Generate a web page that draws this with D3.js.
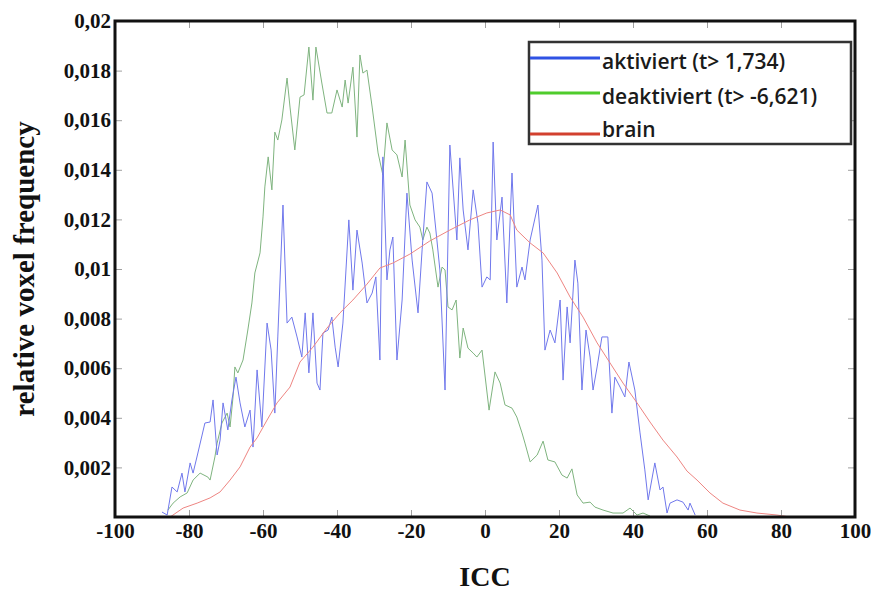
<!DOCTYPE html>
<html>
<head>
<meta charset="utf-8">
<script src="https://cdn.jsdelivr.net/npm/d3@7"></script>
<style>
  html, body { margin: 0; padding: 0; background: #fff; }
  svg { display: block; }
  .serif-label { font-family: "Liberation Serif", "Times New Roman", serif; font-weight: bold; }
</style>
</head>
<body>
<svg id="chart" width="871" height="594"></svg>
<script>
// ICC histogram: relative voxel frequency per ICC bin

const xTicks = [-100, -80, -60, -40, -20, 0, 20, 40, 60, 80, 100];
const yTicks = [0.002, 0.004, 0.006, 0.008, 0.01, 0.012, 0.014, 0.016, 0.018, 0.02];

const seriesNames = ["aktiviert (t> 1,734)", "deaktiviert (t> -6,621)", "brain"];

// aktiviert: [ICC, frequency]
const aktiviert = [
  [-87.3, 0.00020], [-85.9, 0.00008], [-84.6, 0.00121], [-83.2, 0.00101], [-81.9, 0.00177],
  [-81.1, 0.00101], [-79.7, 0.00218], [-78.9, 0.00177], [-77.6, 0.00258], [-75.7, 0.00379],
  [-74.3, 0.00383], [-73.5, 0.00472], [-72.4, 0.00250], [-71.6, 0.00310], [-70.8, 0.00460],
  [-69.5, 0.00351], [-68.4, 0.00472], [-67.3, 0.00564], [-66.2, 0.00460], [-64.9, 0.00363],
  [-63.5, 0.00431], [-62.7, 0.00282], [-61.6, 0.00593], [-60.3, 0.00363], [-58.9, 0.00782],
  [-57.8, 0.00673], [-56.8, 0.00419], [-56.0, 0.00726], [-54.6, 0.01258], [-53.5, 0.00782],
  [-52.2, 0.00806], [-50.8, 0.00726], [-49.5, 0.00645], [-48.6, 0.00823], [-47.6, 0.00581],
  [-46.5, 0.00823], [-45.4, 0.00540], [-44.6, 0.00512], [-43.8, 0.00742], [-42.4, 0.00754],
  [-41.4, 0.00806], [-40.5, 0.00685], [-39.7, 0.00605], [-38.4, 0.00782], [-36.8, 0.01198],
  [-35.7, 0.00915], [-34.6, 0.01157], [-33.2, 0.01024], [-31.9, 0.00863], [-30.5, 0.00903],
  [-29.5, 0.00968], [-28.4, 0.00633], [-27.6, 0.01452], [-26.5, 0.00956], [-25.7, 0.01077],
  [-24.9, 0.01129], [-23.8, 0.00633], [-22.4, 0.00875], [-21.1, 0.01306], [-19.7, 0.01036],
  [-18.1, 0.00823], [-17.0, 0.01077], [-15.7, 0.01351], [-14.3, 0.01306], [-13.0, 0.01117],
  [-12.2, 0.00996], [-10.8, 0.00512], [-9.5, 0.01500], [-7.6, 0.01117], [-6.8, 0.01448],
  [-5.9, 0.01238], [-4.6, 0.01077], [-3.2, 0.01319], [-1.9, 0.01185], [-0.8, 0.00927],
  [0.5, 0.00968], [1.4, 0.00956], [2.2, 0.01512], [3.2, 0.01117], [4.6, 0.01290],
  [5.9, 0.00863], [7.3, 0.01387], [8.6, 0.00927], [10.0, 0.01008], [10.8, 0.00956],
  [12.2, 0.01117], [14.3, 0.01258], [15.4, 0.01036], [16.2, 0.00673], [17.6, 0.00754],
  [18.9, 0.00702], [20.3, 0.00875], [21.1, 0.00552], [22.2, 0.00847], [23.0, 0.00702],
  [24.3, 0.01036], [25.1, 0.00943], [26.2, 0.00512], [27.3, 0.00754], [28.4, 0.00645],
  [29.2, 0.00512], [30.3, 0.00605], [31.6, 0.00726], [33.2, 0.00726], [34.3, 0.00419],
  [35.1, 0.00564], [36.5, 0.00524], [37.8, 0.00484], [38.9, 0.00625], [40.5, 0.00512],
  [41.9, 0.00339], [43.2, 0.00190], [44.1, 0.00069], [45.9, 0.00218], [47.3, 0.00109],
  [48.1, 0.00121], [49.2, 0.00016], [50.0, 0.00056], [51.9, 0.00069], [53.5, 0.00060],
  [54.9, 0.00028], [55.4, 0.00056], [56.8, 0.00008]
];

// deaktiviert: [ICC, frequency]
const deaktiviert = [
  [-85.7, 0.00028], [-84.3, 0.00056], [-82.4, 0.00081], [-80.5, 0.00097], [-78.9, 0.00149],
  [-77.0, 0.00177], [-74.9, 0.00161], [-74.3, 0.00149], [-73.0, 0.00242], [-72.4, 0.00298],
  [-71.1, 0.00379], [-69.7, 0.00419], [-68.9, 0.00363], [-68.1, 0.00484], [-67.6, 0.00605],
  [-66.8, 0.00581], [-65.4, 0.00633], [-64.1, 0.00754], [-63.0, 0.00863], [-62.2, 0.00984],
  [-60.8, 0.01065], [-60.0, 0.01210], [-59.5, 0.01331], [-58.6, 0.01452], [-57.6, 0.01319],
  [-56.8, 0.01552], [-56.0, 0.01520], [-54.9, 0.01601], [-53.5, 0.01770], [-52.7, 0.01653],
  [-51.4, 0.01480], [-50.0, 0.01693], [-48.9, 0.01702], [-47.6, 0.01895], [-46.5, 0.01681],
  [-45.7, 0.01895], [-44.1, 0.01750], [-42.7, 0.01629], [-41.4, 0.01629], [-40.0, 0.01722],
  [-38.6, 0.01653], [-37.8, 0.01762], [-37.0, 0.01669], [-35.7, 0.01814], [-34.6, 0.01532],
  [-33.8, 0.01863], [-33.0, 0.01790], [-31.9, 0.01802], [-30.5, 0.01653], [-28.9, 0.01468],
  [-27.6, 0.01379], [-26.5, 0.01589], [-25.1, 0.01480], [-23.8, 0.01460], [-22.4, 0.01371],
  [-21.6, 0.01520], [-20.3, 0.01258], [-18.9, 0.01198], [-17.6, 0.01169], [-16.8, 0.01117],
  [-15.7, 0.01169], [-14.9, 0.01145], [-14.1, 0.01077], [-12.7, 0.00927], [-11.6, 0.01008],
  [-10.8, 0.00996], [-10.0, 0.00847], [-8.9, 0.00835], [-7.8, 0.00875], [-6.8, 0.00641],
  [-5.9, 0.00762], [-4.6, 0.00681], [-3.2, 0.00661], [-2.2, 0.00645], [-0.8, 0.00673],
  [1.1, 0.00431], [2.7, 0.00585], [4.1, 0.00540], [5.4, 0.00452], [7.3, 0.00439],
  [8.6, 0.00403], [10.0, 0.00339], [10.8, 0.00298], [12.2, 0.00222], [14.1, 0.00250],
  [15.7, 0.00306], [17.0, 0.00230], [18.9, 0.00222], [20.8, 0.00169], [22.2, 0.00157],
  [23.5, 0.00194], [24.9, 0.00089], [26.5, 0.00056], [28.4, 0.00060], [29.7, 0.00040],
  [31.9, 0.00028], [34.6, 0.00016], [37.3, 0.00016], [39.2, 0.00036], [41.1, 0.00008],
  [42.7, 0.00016], [44.6, 0.00004]
];

// brain: [ICC, frequency]
const brain = [
  [-85.1, 0.00000], [-81.6, 0.00036], [-77.8, 0.00056], [-74.3, 0.00077], [-71.6, 0.00101],
  [-68.9, 0.00149], [-66.2, 0.00202], [-63.5, 0.00282], [-61.6, 0.00319], [-58.9, 0.00391],
  [-56.2, 0.00460], [-52.7, 0.00524], [-50.0, 0.00625], [-46.5, 0.00685], [-42.7, 0.00762],
  [-39.2, 0.00823], [-35.7, 0.00875], [-31.9, 0.00939], [-28.4, 0.01004], [-24.9, 0.01024],
  [-20.3, 0.01060], [-14.9, 0.01113], [-9.5, 0.01157], [-4.1, 0.01198], [0.5, 0.01226],
  [4.1, 0.01238], [6.8, 0.01218], [8.6, 0.01157], [12.2, 0.01105], [15.7, 0.01065],
  [19.5, 0.00984], [23.0, 0.00887], [26.5, 0.00806], [30.3, 0.00702], [33.8, 0.00621],
  [37.3, 0.00540], [41.1, 0.00460], [44.6, 0.00383], [48.1, 0.00310], [51.9, 0.00242],
  [54.6, 0.00185], [57.3, 0.00149], [60.8, 0.00097], [64.3, 0.00056], [68.9, 0.00028],
  [73.5, 0.00016], [78.9, 0.00008], [82.4, 0.00000]
];

const lineColors = ["#7078ec", "#7fb47f", "#ee8582"];
const legendColors = ["#2f52e4", "#4fcc2c", "#d2402e"];

const svg = d3.select("#chart");
const margin = { left: 115, right: 16, top: 21, bottom: 77 };
const W = 871, H = 594;

const x = d3.scaleLinear().domain([-100, 100]).range([margin.left, W - margin.right]);
const y = d3.scaleLinear().domain([0, 0.02]).range([H - margin.bottom, margin.top]);

const commaLocale = d3.formatLocale({ decimal: ",", thousands: ".", grouping: [3], currency: ["", ""], minus: "-" });
const fmtY = commaLocale.format("~g");
const fmtX = commaLocale.format("d");

const serif = "Liberation Serif, Times New Roman, serif";

// data lines
const line = d3.line().x(d => x(d[0])).y(d => y(d[1]));
const plot = svg.append("g");
[[deaktiviert, 1], [aktiviert, 0], [brain, 2]].forEach(([s, ci]) => {
  plot.append("path")
    .datum(s)
    .attr("fill", "none")
    .attr("stroke", lineColors[ci])
    .attr("stroke-width", 1)
    .attr("stroke-linejoin", "round")
    .attr("d", line);
});

// axes with inward ticks
const tickLen = 7;
const gx = svg.append("g").attr("transform", `translate(0,${y(0)})`)
  .call(d3.axisBottom(x).tickValues(xTicks).tickSizeInner(-tickLen).tickSizeOuter(0).tickPadding(6).tickFormat(fmtX));
const gxTop = svg.append("g").attr("transform", `translate(0,${y(0.02)})`)
  .call(d3.axisTop(x).tickValues(xTicks).tickSizeInner(-tickLen).tickSizeOuter(0).tickFormat(""));
const gy = svg.append("g").attr("transform", `translate(${x(-100)},0)`)
  .call(d3.axisLeft(y).tickValues(yTicks).tickSizeInner(-tickLen).tickSizeOuter(0).tickPadding(4).tickFormat(fmtY));
const gyRight = svg.append("g").attr("transform", `translate(${x(100)},0)`)
  .call(d3.axisRight(y).tickValues(yTicks).tickSizeInner(-tickLen).tickSizeOuter(0).tickFormat(""));

[gx, gxTop, gy, gyRight].forEach(g => {
  g.select(".domain").remove();
  g.selectAll(".tick line").attr("stroke", "#a0a0a0").attr("stroke-width", 1);
});
[gx, gy].forEach(g => {
  g.attr("font-family", serif).attr("font-size", 21);
  g.selectAll(".tick text")
    .attr("class", "serif-label")
    .attr("fill", "#111")
    .attr("font-size", 21);
});

// frame
svg.append("rect")
  .attr("x", x(-100)).attr("y", y(0.02))
  .attr("width", x(100) - x(-100)).attr("height", y(0) - y(0.02))
  .attr("fill", "none").attr("stroke", "#111").attr("stroke-width", 3);

// axis titles
svg.append("text")
  .attr("class", "serif-label")
  .attr("x", (x(-100) + x(100)) / 2).attr("y", 586)
  .attr("text-anchor", "middle")
  .attr("font-size", 28)
  .attr("fill", "#111")
  .text("ICC");

svg.append("text")
  .attr("class", "serif-label")
  .attr("transform", `translate(34,${(y(0) + y(0.02)) / 2}) rotate(-90)`)
  .attr("text-anchor", "middle")
  .attr("font-size", 29)
  .attr("fill", "#111")
  .text("relative voxel frequency");

// legend
const legend = svg.append("g");
legend.append("rect")
  .attr("x", 529).attr("y", 42).attr("width", 322).attr("height", 102)
  .attr("fill", "#fff").attr("stroke", "#333").attr("stroke-width", 2.5);
const legendLineY = [58, 93, 134];
const legendTextY = [69, 104, 137];
seriesNames.forEach((name, i) => {
  legend.append("line")
    .attr("x1", 530).attr("x2", 600)
    .attr("y1", legendLineY[i]).attr("y2", legendLineY[i])
    .attr("stroke", legendColors[i]).attr("stroke-width", 3);
  legend.append("text")
    .attr("x", 602).attr("y", legendTextY[i])
    .attr("font-family", "Open Sans, Lato, sans-serif")
    .attr("font-weight", 600)
    .attr("font-size", 21)
    .attr("fill", "#1a1a1a")
    .text(name);
});
</script>
</body>
</html>
